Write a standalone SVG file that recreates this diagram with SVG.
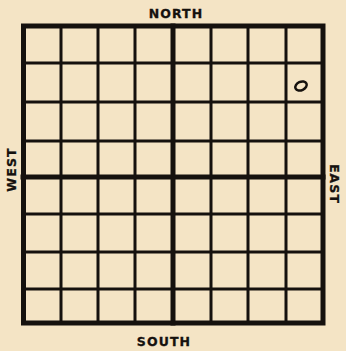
<svg xmlns="http://www.w3.org/2000/svg" width="346" height="351" viewBox="0 0 346 351">
<style>
.thin{stroke:#15110e;stroke-width:3;fill:none;stroke-linecap:square}
.thick{stroke:#15110e;stroke-width:5;fill:none;stroke-linecap:square}
.lbl{font-family:"DejaVu Sans",sans-serif;font-weight:bold;font-size:12.5px;fill:#15110e;stroke:#15110e;stroke-width:0.3;text-anchor:middle;letter-spacing:1.1px}
</style>
<rect width="346" height="351" fill="#f4e4c5"/>
<g id="connectors">
<path class="thin" d="M61,26V323M98,26V323M135,26V323M211,26V323M248,26V323M286,26V323"/>
<path class="thin" d="M23,63H323M23,102H323M23,141H323M23,214H323M23,252H323M23,289H323"/>
<path class="thick" d="M173,26V323M23,177H323"/>
<rect class="thick" x="23.5" y="26" width="299.5" height="297" stroke-width="6"/>
</g>
<g id="north"><text class="lbl" x="176" y="18">NORTH</text></g>
<g id="south"><text class="lbl" x="164" y="346">SOUTH</text></g>
<g id="west"><text class="lbl" transform="translate(15.5,169.5) rotate(-90)">WEST</text></g>
<g id="east"><text class="lbl" transform="translate(330,184) rotate(90)">EAST</text></g>
<g id="mark"><ellipse cx="301" cy="86" rx="6" ry="4.2" transform="rotate(-25 301 86)" fill="none" stroke="#15110e" stroke-width="2.5"/></g>
</svg>
